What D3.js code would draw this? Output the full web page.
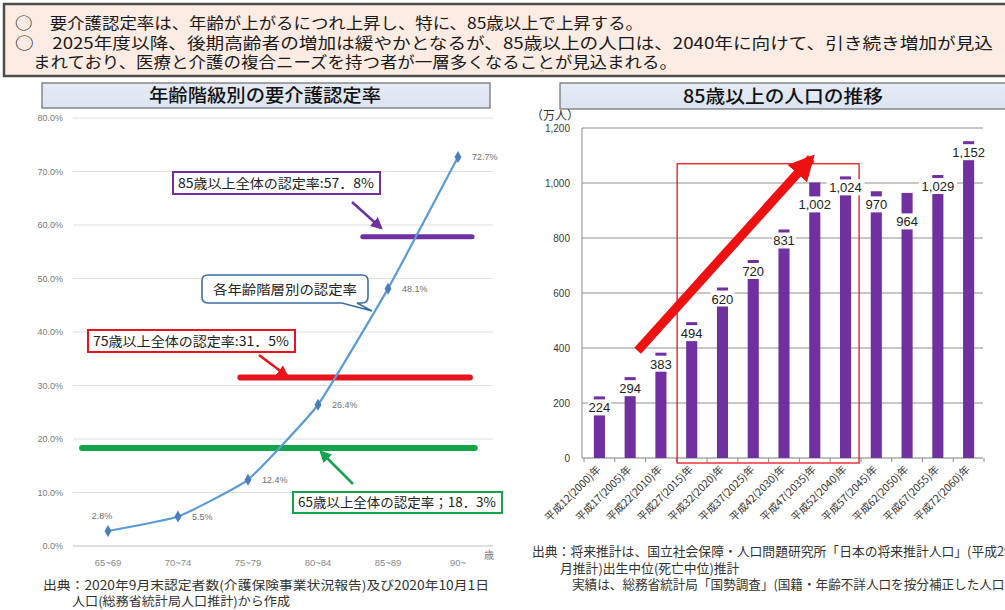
<!DOCTYPE html>
<html>
<head>
<meta charset="utf-8">
<script src="https://cdn.jsdelivr.net/npm/d3@7"></script>
<style>
  html, body { margin: 0; padding: 0; background: #fff; }
  svg { display: block; font-family: "Noto Sans CJK JP", "Noto Sans", sans-serif; }
</style>
</head>
<body>
<svg id="chart" width="1005" height="610"></svg>
<script>
// ---- Certification rate by age group (%) ----
const ageGroups = ["65~69", "70~74", "75~79", "80~84", "85~89", "90~"];
const certRates = [2.8, 5.5, 12.4, 26.4, 48.1, 72.7];
const rateTicks = [0, 10, 20, 30, 40, 50, 60, 70, 80];

// overall rates for each age threshold
const overallTexts = ["85歳以上全体の認定率:57．8%", "75歳以上全体の認定率:31．5%", "65歳以上全体の認定率；18．3%"];
const overallRates = [57.8, 31.5, 18.3];

// ---- Population aged 85+ (10,000 persons) ----
const years = ["平成12(2000)年", "平成17(2005)年", "平成22(2010)年", "平成27(2015)年", "平成32(2020)年",
  "平成37(2025)年", "平成42(2030)年", "平成47(2035)年", "平成52(2040)年", "平成57(2045)年",
  "平成62(2050)年", "平成67(2055)年", "平成72(2060)年"];
const pop85 = [224, 294, 383, 494, 620, 720, 831, 1002, 1024, 970, 964, 1029, 1152];
const popTicks = [0, 200, 400, 600, 800, 1000, 1200];

// ---- Text blocks ----
const headerLines = [
  "○　要介護認定率は、年齢が上がるにつれ上昇し、特に、85歳以上で上昇する。",
  "○　2025年度以降、後期高齢者の増加は緩やかとなるが、85歳以上の人口は、2040年に向けて、引き続き増加が見込",
  "まれており、医療と介護の複合ニーズを持つ者が一層多くなることが見込まれる。"
];
const leftSource = ["出典：2020年9月末認定者数(介護保険事業状況報告)及び2020年10月1日", "人口(総務省統計局人口推計)から作成"];
const rightSource = ["出典：将来推計は、国立社会保障・人口問題研究所「日本の将来推計人口」(平成29年4",
  "月推計)出生中位(死亡中位)推計",
  "実績は、総務省統計局「国勢調査」(国籍・年齢不詳人口を按分補正した人口"];

const svg = d3.select("#chart");
const defs = svg.append("defs");

// ================= Header box =================
svg.append("rect").attr("x", 4).attr("y", 4).attr("width", 1010).attr("height", 72)
  .attr("fill", "#fcece4").attr("stroke", "#4d4d4d").attr("stroke-width", 2.5);
const headerPos = [{x: 15, y: 29, w: 628}, {x: 15, y: 48.5, w: 978}, {x: 33, y: 68, w: 644}];
headerLines.forEach((t, i) => {
  svg.append("text").attr("x", headerPos[i].x).attr("y", headerPos[i].y)
    .attr("textLength", headerPos[i].w).attr("lengthAdjust", "spacingAndGlyphs")
    .attr("font-size", 15.5).attr("fill", "#1a1a1a").text(t);
});

// ================= Title boxes =================
const titleGrad = defs.append("linearGradient").attr("id", "titleGrad")
  .attr("x1", 0).attr("y1", 0).attr("x2", 0).attr("y2", 1);
titleGrad.append("stop").attr("offset", "0%").attr("stop-color", "#e6ebf6");
titleGrad.append("stop").attr("offset", "100%").attr("stop-color", "#dce3f1");

function titleBox(x, y, w, h, text, cx, tw) {
  svg.append("rect").attr("x", x).attr("y", y).attr("width", w).attr("height", h)
    .attr("fill", "url(#titleGrad)").attr("stroke", "#6d6d6d").attr("stroke-width", 1.2);
  svg.append("text").attr("x", cx).attr("y", y + h / 2 + 6.5).attr("text-anchor", "middle")
    .attr("textLength", tw).attr("lengthAdjust", "spacingAndGlyphs")
    .attr("font-size", 18).attr("font-weight", 500).attr("fill", "#111").text(text);
}
titleBox(42, 83, 448, 25, "年齢階級別の要介護認定率", 265, 232);
titleBox(560, 83, 460, 26, "85歳以上の人口の推移", 783, 200);

// arrow marker helper
function arrowMarker(id, color, size) {
  defs.append("marker").attr("id", id).attr("viewBox", "0 0 10 10")
    .attr("refX", 8).attr("refY", 5).attr("markerWidth", size).attr("markerHeight", size)
    .attr("markerUnits", "userSpaceOnUse").attr("orient", "auto")
    .append("path").attr("d", "M0,0 L10,5 L0,10 Z").attr("fill", color);
}

// ================= Left chart: line =================
const xL = d3.scalePoint().domain(ageGroups).range([73, 493]).padding(0.5);
const yL = d3.scaleLinear().domain([0, 80]).range([546, 118]);
const gL = svg.append("g");

gL.selectAll("line.grid").data(rateTicks).join("line")
  .attr("x1", 73).attr("x2", 493)
  .attr("y1", d => yL(d)).attr("y2", d => yL(d))
  .attr("stroke", d => d === 0 ? "#bfbfbf" : "#dedede").attr("stroke-width", 1);

gL.selectAll("text.ytick").data(rateTicks).join("text")
  .attr("x", 63).attr("y", d => yL(d) + 3)
  .attr("text-anchor", "end").attr("font-size", 9)
  .attr("font-family", "Liberation Sans, sans-serif").attr("fill", "#7a7a7a")
  .text(d => d3.format(".1f")(d) + "%");

gL.selectAll("text.xcat").data(ageGroups).join("text")
  .attr("x", d => xL(d)).attr("y", 566)
  .attr("text-anchor", "middle").attr("font-size", 9.5)
  .attr("font-family", "Liberation Sans, sans-serif").attr("fill", "#8a8a8a")
  .text(d => d);
gL.append("text").attr("x", 484).attr("y", 559).attr("font-size", 10)
  .attr("fill", "#7a7a7a").text("歳");

// overall-rate reference lines
const refColors = ["#7030a0", "#e8141b", "#13a54b"];
const refWidths = [5, 6, 6];
const step = xL.step();
const refSpans = [
  [xL("80~84") + 0.64 * step, xL("90~") + 0.2 * step],
  [xL("75~79") - 0.11 * step, xL("90~") + 0.17 * step],
  [xL("65~69") - 0.37 * step, xL("90~") + 0.24 * step]
];
overallRates.forEach((r, i) => {
  gL.append("line").attr("x1", refSpans[i][0]).attr("x2", refSpans[i][1])
    .attr("y1", yL(r)).attr("y2", yL(r))
    .attr("stroke", refColors[i]).attr("stroke-width", refWidths[i]).attr("stroke-linecap", "round");
});

// rate curve (lightly smoothed)
const line = d3.line().x((d, i) => xL(ageGroups[i])).y(d => yL(d)).curve(d3.curveCardinal.tension(0.6));
gL.append("path").datum(certRates).attr("d", line)
  .attr("fill", "none").attr("stroke", "#5b9bd5").attr("stroke-width", 2.2);
gL.selectAll("path.pt").data(certRates).join("path")
  .attr("transform", (d, i) => `translate(${xL(ageGroups[i])},${yL(d)})`)
  .attr("d", d3.symbol(d3.symbolDiamond, 42))
  .attr("fill", "#4a7ebb");
gL.selectAll("text.val").data(certRates).join("text")
  .attr("x", (d, i) => i === 0 ? xL(ageGroups[i]) - 6 : xL(ageGroups[i]) + 14)
  .attr("y", (d, i) => i === 0 ? yL(d) - 12 : yL(d) + 3)
  .attr("text-anchor", (d, i) => i === 0 ? "middle" : "start")
  .attr("font-size", 9).attr("font-family", "Liberation Sans, sans-serif").attr("fill", "#6f6f6f")
  .text(d => d3.format(".1f")(d) + "%");

arrowMarker("arPurple", refColors[0], 12);
arrowMarker("arRed", refColors[1], 12);
arrowMarker("arGreen", refColors[2], 12);

// callout boxes for the reference lines
const boxes = [
  {x: 173, y: 172, w: 207, h: 22, tx: 178, tw: 196, ar: [352, 202, 381, 228], m: "arPurple"},
  {x: 88, y: 330, w: 207, h: 22, tx: 93, tw: 196, ar: [259, 355, 287, 376], m: "arRed"},
  {x: 293, y: 492, w: 209, h: 21, tx: 298, tw: 198, ar: [353, 484, 321, 452], m: "arGreen"}
];
boxes.forEach((b, i) => {
  gL.append("line").attr("x1", b.ar[0]).attr("y1", b.ar[1]).attr("x2", b.ar[2]).attr("y2", b.ar[3])
    .attr("stroke", refColors[i]).attr("stroke-width", 2.5).attr("marker-end", `url(#${b.m})`);
  gL.append("rect").attr("x", b.x).attr("y", b.y).attr("width", b.w).attr("height", b.h)
    .attr("fill", "#fff").attr("stroke", refColors[i]).attr("stroke-width", 2);
  gL.append("text").attr("x", b.tx).attr("y", b.y + b.h / 2 + 4.5)
    .attr("textLength", b.tw).attr("lengthAdjust", "spacingAndGlyphs")
    .attr("font-size", 13).attr("fill", "#222").text(overallTexts[i]);
});

// rounded callout for the curve
{
  const x0 = 202, x1 = 368, y0 = 275, y1 = 303, r = 6;
  const tA = 342, tB = 357, tipX = 372, tipY = 311;
  const p = `M${x0 + r},${y0} H${x1 - r} Q${x1},${y0} ${x1},${y0 + r} V${y1 - r} Q${x1},${y1} ${x1 - r},${y1}
    H${tB} L${tipX},${tipY} L${tA},${y1} H${x0 + r} Q${x0},${y1} ${x0},${y1 - r} V${y0 + r} Q${x0},${y0} ${x0 + r},${y0} Z`;
  gL.append("path").attr("d", p).attr("fill", "#fff").attr("stroke", "#3d6fa3").attr("stroke-width", 1.6);
  gL.append("text").attr("x", 285).attr("y", 294).attr("text-anchor", "middle")
    .attr("textLength", 144).attr("lengthAdjust", "spacingAndGlyphs")
    .attr("font-size", 13).attr("fill", "#222").text("各年齢階層別の認定率");
}

// left source note
svg.append("text").attr("x", 43).attr("y", 590).attr("textLength", 446).attr("lengthAdjust", "spacingAndGlyphs")
  .attr("font-size", 12.5).attr("fill", "#333").text(leftSource[0]);
svg.append("text").attr("x", 72).attr("y", 606).attr("textLength", 218).attr("lengthAdjust", "spacingAndGlyphs")
  .attr("font-size", 12.5).attr("fill", "#333").text(leftSource[1]);

// ================= Right chart: bars =================
const xR = d3.scaleBand().domain(years).range([584, 984]).paddingInner(0.64).paddingOuter(0.32);
const yR = d3.scaleLinear().domain([0, 1200]).range([458, 128]);
const gR = svg.append("g");

gR.selectAll("line.grid").data(popTicks).join("line")
  .attr("x1", 582).attr("x2", 983)
  .attr("y1", d => yR(d)).attr("y2", d => yR(d))
  .attr("stroke", d => d === 0 ? "#7f7f7f" : "#909090").attr("stroke-width", 1);
gR.append("line").attr("x1", 582).attr("x2", 582).attr("y1", yR(1200)).attr("y2", yR(0))
  .attr("stroke", "#8c8c8c");
// tick marks between categories
const bounds = d3.range(years.length + 1).map(i => 584 + i * xR.step());
gR.selectAll("line.tk").data(bounds).join("line")
  .attr("x1", d => d).attr("x2", d => d).attr("y1", yR(0)).attr("y2", yR(0) + 4)
  .attr("stroke", "#8c8c8c");

gR.selectAll("text.ytick").data(popTicks).join("text")
  .attr("x", 570).attr("y", d => yR(d) + 3.5)
  .attr("text-anchor", "end").attr("font-size", 10)
  .attr("font-family", "Liberation Sans, sans-serif").attr("fill", "#3a3a3a")
  .text(d => d3.format(",")(d));
gR.append("text").attr("x", 531).attr("y", 120).attr("font-size", 12).attr("fill", "#333").text("（万人）");

// highlighted period box
gR.append("rect")
  .attr("x", xR(years[3]) - 9).attr("y", yR(1070))
  .attr("width", xR(years[8]) + xR.bandwidth() + 8 - (xR(years[3]) - 9))
  .attr("height", yR(0) + 5 - yR(1070))
  .attr("fill", "none").attr("stroke", "#e8141b").attr("stroke-width", 1.3);

gR.selectAll("rect.bar").data(pop85).join("rect")
  .attr("x", (d, i) => xR(years[i])).attr("width", xR.bandwidth())
  .attr("y", d => yR(d)).attr("height", d => yR(0) - yR(d))
  .attr("fill", "#7030a0");

// value labels on a white plate just under each bar top; adjacent overlapping
// labels push the lower value further down
const fmt = d3.format(",");
const labelY = pop85.map(d => yR(d) + 11);
for (let i = 0; i < pop85.length - 1; i++) {
  if (Math.abs(labelY[i] - labelY[i + 1]) < 15) {
    if (pop85[i] < pop85[i + 1]) labelY[i] = labelY[i + 1] + 17;
    else labelY[i + 1] = labelY[i] + 17;
  }
}
const lab = gR.selectAll("g.lab").data(pop85).join("g")
  .attr("transform", (d, i) => `translate(${xR(years[i]) + xR.bandwidth() / 2},${labelY[i]})`);
lab.append("rect").attr("x", d => -(fmt(d).length * 7.2) / 2 - 1).attr("y", -8)
  .attr("width", d => fmt(d).length * 7.2 + 2).attr("height", 16).attr("fill", "#fff");
lab.append("text").attr("y", 5).attr("text-anchor", "middle").attr("font-size", 13)
  .attr("font-family", "Liberation Sans, sans-serif").attr("fill", "#222")
  .text(d => fmt(d));

// growth arrow
arrowMarker("arBig", "#ee1111", 26);
gR.append("line")
  .attr("x1", xR(years[1]) + 13).attr("y1", yR(390))
  .attr("x2", xR(years[7]) + 2).attr("y2", yR(1090))
  .attr("stroke", "#ee1111").attr("stroke-width", 9).attr("marker-end", "url(#arBig)");

// rotated category labels
gR.selectAll("text.xcat").data(years).join("text")
  .attr("transform", d => `translate(${xR(d) + xR.bandwidth() / 2 + 2},${yR(0) + 12}) rotate(-45)`)
  .attr("text-anchor", "end").attr("font-size", 10.5).attr("fill", "#333")
  .text(d => d);

// right source note
svg.append("text").attr("x", 532).attr("y", 556).attr("font-size", 12.8).attr("fill", "#333").text(rightSource[0]);
svg.append("text").attr("x", 560).attr("y", 573).attr("font-size", 12.8).attr("fill", "#333").text(rightSource[1]);
svg.append("text").attr("x", 572).attr("y", 589).attr("font-size", 12.6).attr("fill", "#333").text(rightSource[2]);
</script>
</body>
</html>
